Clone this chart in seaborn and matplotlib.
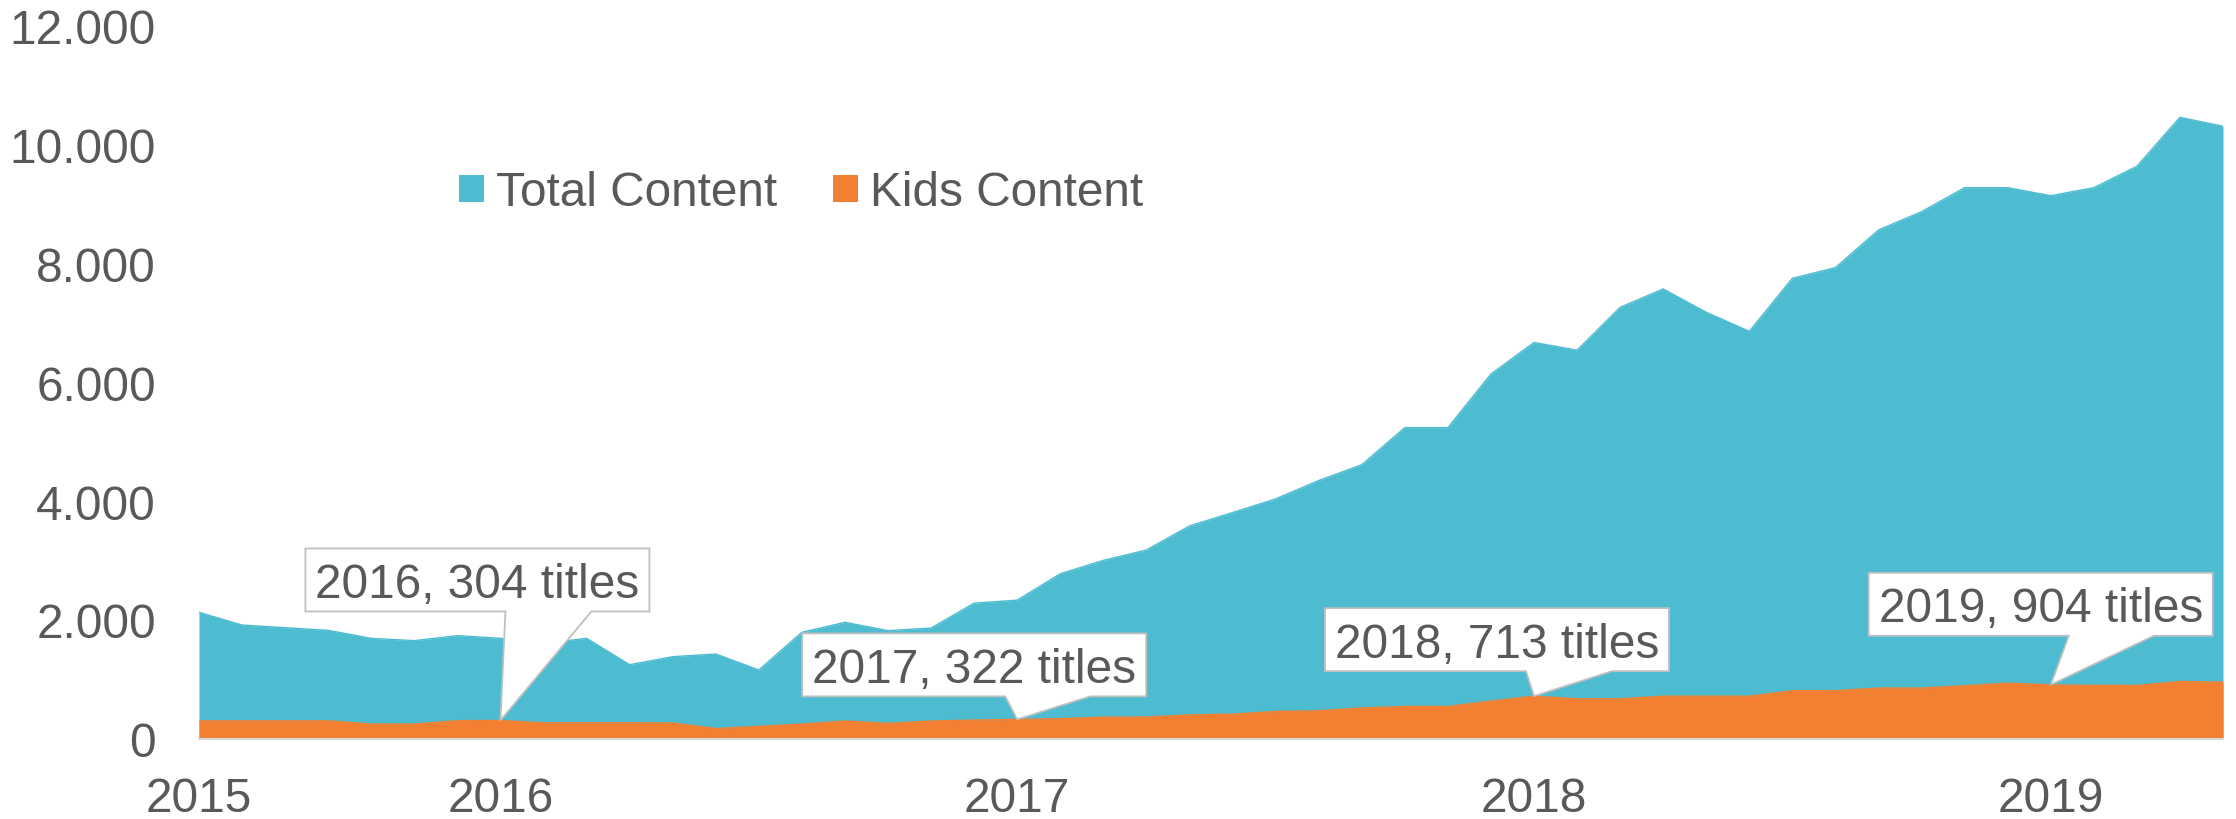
import numpy as np
import pandas as pd
import seaborn as sns
import matplotlib
matplotlib.use("Agg")
import matplotlib.pyplot as plt
import matplotlib.transforms as mtransforms
from matplotlib.patches import Polygon, Patch
from matplotlib.ticker import FuncFormatter, MultipleLocator

# ---- data -------------------------------------------------------------
months = pd.date_range("2015-06-01", periods=48, freq="MS")

total_content = [
    2125, 1911, 1866, 1822, 1687, 1648, 1732, 1687,
    1600, 1687, 1243, 1378, 1423, 1154, 1789, 1957, 1816, 1861,
    2280, 2330, 2775, 3000, 3175, 3580, 3805, 4035, 4345, 4610,
    5235, 5235, 6138, 6670, 6540, 7262, 7571, 7178, 6858, 7751,
    7930, 8564, 8873, 9277, 9277, 9142, 9277, 9637, 10462, 10311,
]
kids_content = [
    298, 298, 298, 298, 244, 244, 300, 304,
    265, 265, 265, 262, 168, 205, 244, 295, 256, 295,
    310, 322, 334, 360, 362, 398, 410, 456, 468, 515,
    540, 540, 631, 713, 669, 669, 713, 713, 713, 806,
    806, 850, 850, 889, 933, 904, 895, 895, 960, 950,
]
series_names = ["Total Content", "Kids Content"]
callout_years = [2016, 2017, 2018, 2019]
y_ticks = [0, 2000, 4000, 6000, 8000, 10000, 12000]

# ---- style ------------------------------------------------------------
TEAL = "#4DBCD1"
ORANGE = "#F38031"
TEXT = "#595959"
FS = 34.4

sns.set_theme(style="white")
plt.rcParams["font.family"] = ["Liberation Sans", "DejaVu Sans"]

df = pd.DataFrame({
    "idx": np.arange(len(months)),
    "month": months,
    "Total Content": total_content,
    "Kids Content": kids_content,
})

W, H = 2236, 820
fig = plt.figure(figsize=(W / 100, H / 100), dpi=100)
ax = fig.add_axes([199 / W, 1 - 739.5 / H, (2223 - 199) / W, (739.5 - 27) / H])

# areas: total behind, kids in front
ax.fill_between(df["idx"], 0, df["Total Content"], color=TEAL, lw=0, zorder=1)
sns.lineplot(data=df, x="idx", y="Total Content", color=TEAL, lw=1, ax=ax, zorder=1.1)
ax.fill_between(df["idx"], 0, df["Kids Content"], color=ORANGE, lw=0, zorder=2)
sns.lineplot(data=df, x="idx", y="Kids Content", color=ORANGE, lw=1, ax=ax, zorder=2.1)

ax.set_xlim(0, len(months) - 1)
ax.set_ylim(0, 12000)
ax.set_xlabel("")
ax.set_ylabel("")

# x ticks: first month and every January
tick_idx = [0] + [i for i, m in enumerate(months) if m.month == 1]
ax.set_xticks(tick_idx)
ax.set_xticklabels([str(months[i].year) for i in tick_idx])
ax.set_yticks(y_ticks)
ax.yaxis.set_major_formatter(FuncFormatter(lambda v, p: f"{int(v):,}".replace(",", ".")))
ax.tick_params(axis="x", length=0, pad=27, labelsize=FS, labelcolor=TEXT)
ax.tick_params(axis="y", length=0, pad=31, labelsize=FS, labelcolor=TEXT)

for s in ["top", "right", "left"]:
    ax.spines[s].set_visible(False)
ax.spines["bottom"].set_color("#D9D9D9")
ax.spines["bottom"].set_linewidth(1.5)
ax.spines["bottom"].set_zorder(3)

# ---- callouts ---------------------------------------------------------
# pixel offsets from the tip: box left, box bottom, wedge base left, wedge base right
callout_geom = {
    2016: (-195, 109, 5, 91),
    2017: (-215, 23, -12, 73),
    2018: (-209, 25, -8, 78),
    2019: (-182, 49, 18, 103),
}
BOX_W, BOX_H = 344, 63
em_px = FS * 100 / 72

for yr in callout_years:
    i = next(k for k, m in enumerate(months) if m.year == yr and m.month == 1)
    val = kids_content[i]
    left, bottom, wl, wr = callout_geom[yr]
    trans = mtransforms.Affine2D().scale(fig.dpi / 100) + \
        mtransforms.ScaledTranslation(i, val, ax.transData)
    verts = [
        (0, 0), (wr, bottom), (left + BOX_W, bottom), (left + BOX_W, bottom + BOX_H),
        (left, bottom + BOX_H), (left, bottom), (wl, bottom),
    ]
    ax.add_patch(Polygon(verts, closed=True, transform=trans, facecolor="white",
                         edgecolor="#BFBFBF", lw=1.3, zorder=5, clip_on=False))
    ax.text(left + BOX_W / 2, bottom + BOX_H / 2 - 0.358 * em_px,
            f"{yr}, {val} titles", transform=trans, ha="center", va="baseline",
            fontsize=FS, color=TEXT, zorder=6)

# ---- legend -----------------------------------------------------------
handles = [Patch(facecolor=TEAL, edgecolor="none"), Patch(facecolor=ORANGE, edgecolor="none")]
fig.legend(handles, series_names, loc="center left", bbox_to_anchor=(459 / W, 1 - 194 / H),
           ncol=2, frameon=False, fontsize=FS, labelcolor=TEXT, borderpad=0,
           borderaxespad=0, handlelength=0.52, handleheight=0.52, handletextpad=0.25,
           columnspacing=1.18)

fig.savefig("out.png", dpi=100)
